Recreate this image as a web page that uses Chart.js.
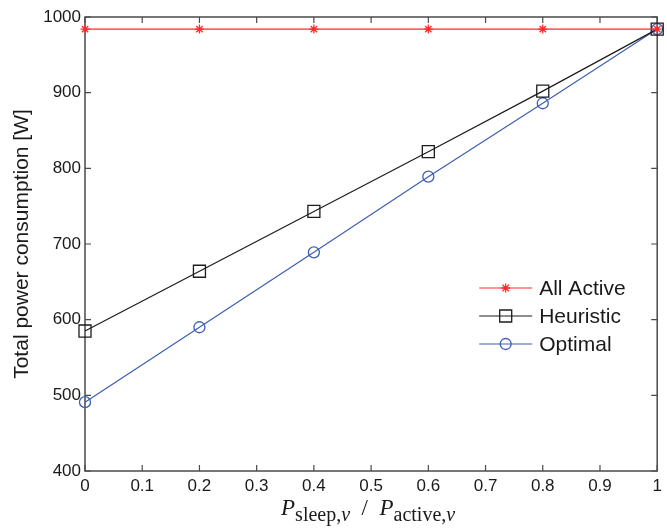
<!DOCTYPE html>
<html lang="en">
<head>
    <meta charset="UTF-8">
    <title>Total power consumption</title>
    <script src="https://cdn.jsdelivr.net/npm/chart.js"></script>
    <style>
        html, body { margin: 0; padding: 0; background: #fff; }
    </style>
</head>
<body>
    <canvas id="powerChart" width="667" height="529"></canvas>
    <script>
        // Sleep/active power ratio on the x axis
        const ratios = [0, 0.2, 0.4, 0.6, 0.8, 1];
        const allActive = [984, 984, 984, 984, 984, 984];
        const heuristic = [585, 664, 743, 822, 902, 984];
        const optimal = [491, 590, 689, 789, 886, 984];

        const xTickLabels = ['0', '0.1', '0.2', '0.3', '0.4', '0.5', '0.6', '0.7', '0.8', '0.9', '1'];
        const yTickLabels = ['400', '500', '600', '700', '800', '900', '1000'];

        const AXIS_COLOR = '#4a4a4a';
        const SANS = '"Liberation Sans", Arial, sans-serif';
        const SERIF = '"Liberation Serif", "Times New Roman", serif';

        const toPoints = vals => vals.map((v, i) => ({ x: ratios[i], y: v }));

        const series = [
            { label: 'All Active', data: allActive, color: '#ff2a2a', style: 'star', radius: 4.5 },
            { label: 'Heuristic', data: heuristic, color: '#1c1c1c', style: 'rect', radius: 8.5 },
            { label: 'Optimal', data: optimal, color: '#3e5fb0', style: 'circle', radius: 5.5 }
        ];

        // box around the plot with inward ticks on all four sides
        const frame = {
            id: 'frame',
            beforeDatasetsDraw(chart) {
                const { ctx, chartArea: a, scales: { x, y } } = chart;
                ctx.save();
                ctx.strokeStyle = AXIS_COLOR;
                ctx.lineWidth = 1.5;
                ctx.strokeRect(a.left, a.top, a.right - a.left, a.bottom - a.top);
                ctx.lineWidth = 1.2;
                ctx.beginPath();
                x.ticks.forEach(t => {
                    const px = x.getPixelForValue(t.value);
                    ctx.moveTo(px, a.bottom); ctx.lineTo(px, a.bottom - 6);
                    ctx.moveTo(px, a.top); ctx.lineTo(px, a.top + 6);
                });
                y.ticks.forEach(t => {
                    const py = y.getPixelForValue(t.value);
                    ctx.moveTo(a.left, py); ctx.lineTo(a.left + 6, py);
                    ctx.moveTo(a.right, py); ctx.lineTo(a.right - 6, py);
                });
                ctx.stroke();
                ctx.restore();
            }
        };

        // axis titles: plain y label, math-style x label with subscripts
        const titles = {
            id: 'titles',
            afterDraw(chart) {
                const { ctx, chartArea: a } = chart;
                ctx.save();
                ctx.fillStyle = '#1a1a1a';
                ctx.font = '21px ' + SANS;
                ctx.textAlign = 'center';
                ctx.textBaseline = 'middle';
                ctx.translate(22, (a.top + a.bottom) / 2);
                ctx.rotate(-Math.PI / 2);
                ctx.fillText('Total power consumption [W]', 0, 0);
                ctx.restore();

                const big = 'italic 23px ' + SERIF;
                const sub = '20px ' + SERIF;
                const subIt = 'italic 20px ' + SERIF;
                const parts = [
                    { t: 'P', f: big, dy: 0 },
                    { t: 'sleep,', f: sub, dy: 6 },
                    { t: 'v', f: subIt, dy: 6 },
                    { t: '  /  ', f: '23px ' + SERIF, dy: 0 },
                    { t: 'P', f: big, dy: 0 },
                    { t: 'active', f: sub, dy: 6 },
                    { t: ',', f: sub, dy: 6 },
                    { t: 'v', f: subIt, dy: 6 }
                ];
                ctx.save();
                ctx.fillStyle = '#1a1a1a';
                ctx.textBaseline = 'alphabetic';
                let total = 0;
                parts.forEach(p => { ctx.font = p.f; p.w = ctx.measureText(p.t).width; total += p.w; });
                let cx = (a.left + a.right) / 2 - 3 - total / 2;
                const base = 515;
                parts.forEach(p => {
                    ctx.font = p.f;
                    ctx.fillText(p.t, cx, base + p.dy);
                    cx += p.w;
                });
                ctx.restore();
            }
        };

        // legend sitting inside the plot, no box
        const insideLegend = {
            id: 'insideLegend',
            afterDraw(chart) {
                const { ctx, chartArea: a } = chart;
                const x0 = a.right - 178;
                const y0 = a.top + 271;
                ctx.save();
                series.forEach((s, i) => {
                    const yy = y0 + i * 28;
                    ctx.strokeStyle = s.color;
                    ctx.fillStyle = 'rgba(0,0,0,0)';
                    ctx.lineWidth = 1.2;
                    ctx.beginPath();
                    ctx.moveTo(x0, yy);
                    ctx.lineTo(x0 + 53, yy);
                    ctx.stroke();
                    ctx.lineWidth = 1.3;
                    Chart.helpers.drawPoint(ctx, { pointStyle: s.style, radius: s.radius, borderWidth: 1.3 }, x0 + 26.5, yy);
                    ctx.fillStyle = '#1a1a1a';
                    ctx.font = '21px ' + SANS;
                    ctx.textAlign = 'left';
                    ctx.textBaseline = 'middle';
                    ctx.fillText(s.label, x0 + 60, yy + 1);
                });
                ctx.restore();
            }
        };

        const ctx = document.getElementById('powerChart').getContext('2d');
        new Chart(ctx, {
            type: 'scatter',
            data: {
                datasets: series.map(s => ({
                    label: s.label,
                    data: toPoints(s.data),
                    showLine: true,
                    borderColor: s.color,
                    backgroundColor: 'rgba(0,0,0,0)',
                    borderWidth: 1.2,
                    pointStyle: s.style,
                    pointRadius: s.radius,
                    pointHoverRadius: s.radius,
                    pointBorderWidth: 1.3,
                    pointBorderColor: s.color,
                    pointBackgroundColor: 'rgba(0,0,0,0)',
                    clip: false
                }))
            },
            options: {
                responsive: false,
                animation: false,
                layout: { padding: { top: 17, right: 5, left: 0, bottom: 0 } },
                plugins: {
                    legend: { display: false },
                    tooltip: { enabled: false }
                },
                scales: {
                    x: {
                        type: 'linear',
                        min: 0,
                        max: 1,
                        grid: { display: false, drawTicks: false },
                        border: { display: false },
                        ticks: {
                            stepSize: 0.1,
                            padding: 5,
                            color: '#1a1a1a',
                            font: { family: SANS, size: 17 },
                            maxRotation: 0,
                            callback: (v, i) => xTickLabels[i]
                        },
                        afterFit: scale => { scale.height = 58; }
                    },
                    y: {
                        min: 400,
                        max: 1000,
                        grid: { display: false, drawTicks: false },
                        border: { display: false },
                        ticks: {
                            stepSize: 100,
                            padding: 4,
                            color: '#1a1a1a',
                            font: { family: SANS, size: 17 },
                            callback: (v, i) => yTickLabels[i]
                        },
                        afterFit: scale => { scale.width = 85; }
                    }
                }
            },
            plugins: [frame, titles, insideLegend]
        });
    </script>
</body>
</html>
